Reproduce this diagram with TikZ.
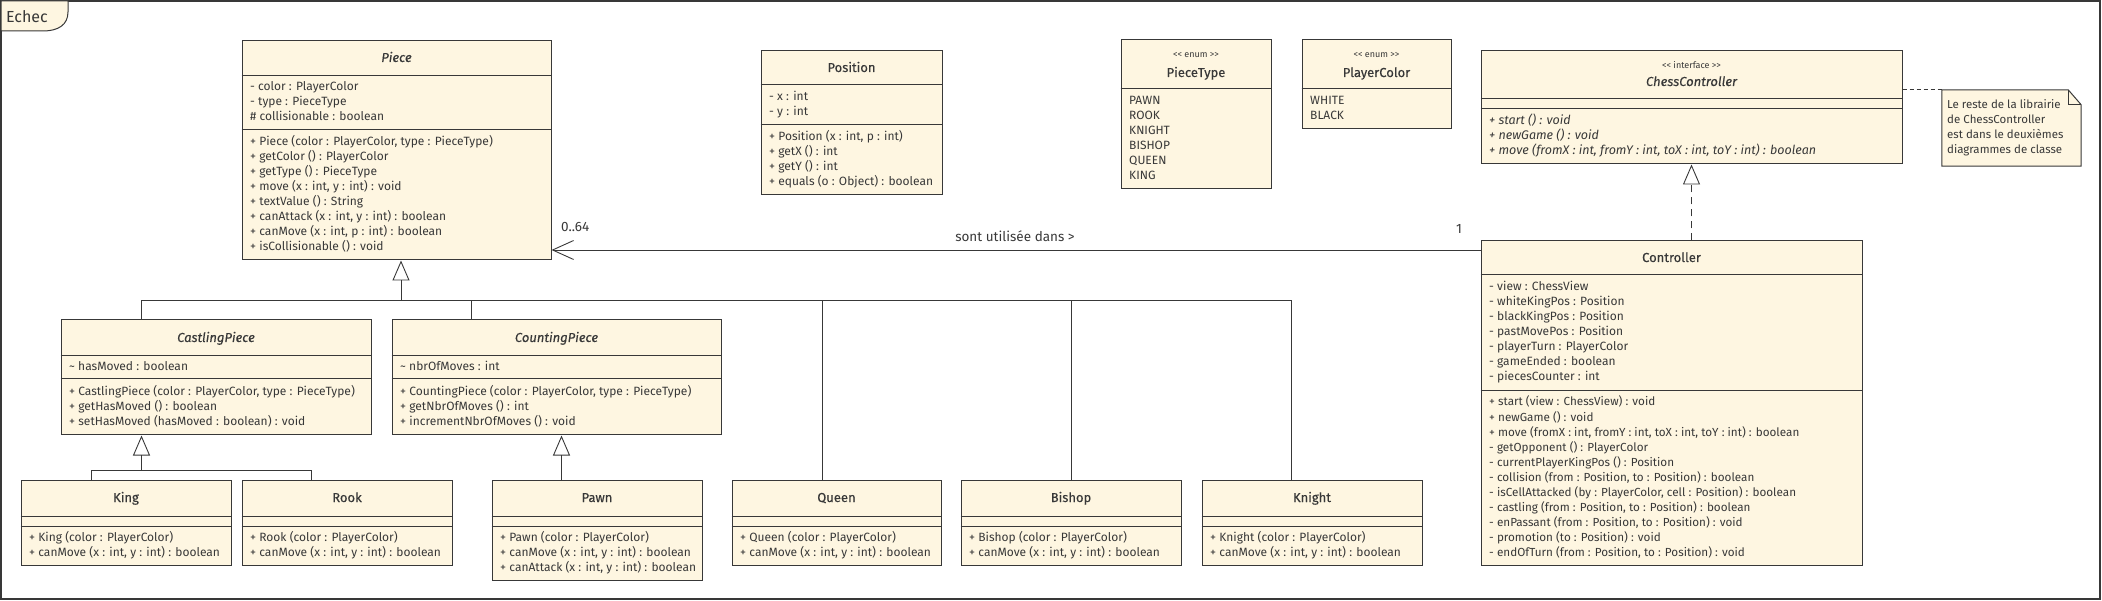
\documentclass[tikz,border=0pt]{standalone}
\usepackage{fontspec}
\setmainfont{Fira Sans}
\newfontfamily\titlefont{Fira Sans}[FakeBold=0.3]
\usetikzlibrary{fit,arrows.meta}
\definecolor{umlfill}{HTML}{FEF6E1}
\definecolor{umlline}{HTML}{383838}
\tikzstyle{classbox}=[draw=umlline,fill=umlfill,inner sep=0pt,line width=1pt]
\tikzstyle{classline}=[draw=umlline,line width=1pt]
\tikzstyle{member}=[anchor=base west,inner sep=0pt,text=umlline,font=\fontsize{12}{15}\selectfont]
\tikzstyle{title}=[anchor=base,inner sep=0pt,text=umlline,font=\titlefont\fontsize{13}{15}\selectfont]
\tikzstyle{stereo}=[anchor=base,inner sep=0pt,text=umlline,font=\fontsize{9}{11}\selectfont]
\tikzstyle{link}=[draw=umlline,line width=0.9pt]
\tikzstyle{generalize}=[link,-{Triangle[open,length=20pt,width=17pt]}]
\tikzstyle{realize}=[generalize,dash pattern=on 7pt off 5pt]
\tikzstyle{navigable}=[link,-{Straight Barb[length=21pt,width=19pt]}]

% box with header and two compartments: name, x1, x2, top, header, divider, bottom
\newcommand{\umlclass}[7]{%
  \node[classbox,fit={(#2,#4) (#3,#7)}] (#1) {};
  \draw[classline] (#1.west |- 0,#5) -- (#1.east |- 0,#5);
  \draw[classline] (#1.west |- 0,#6) -- (#1.east |- 0,#6);
}
% one text line per entry, 15px apart
\newcommand{\umllines}[5][]{%
  \foreach \txt [count=\i from 0] in {#5}
    \node[member,#1] (#2-\i) at (#3,#4+15*\i) {\txt};
}

\begin{document}
\begin{tikzpicture}[x=1pt,y=-1pt]
\useasboundingbox (0,0) rectangle (2102,601);

% package frame
\draw[link,line width=1.6pt] (1,1) rectangle (2100,599);
\draw[classbox] (1,1) -- (68,1) -- (68,12) .. controls (68,25) and (58,31) .. (43,31) -- (1,31) -- cycle;
\node[anchor=base west,inner sep=0pt,text=umlline,font=\fontsize{16}{18}\selectfont] (echec) at (6,23) {Echec};

% Piece
\umlclass{piece}{242}{551}{41}{76}{130}{260}
\node[title,font=\titlefont\fontsize{13}{15}\itshape] (piece-name) at (396.5,62) {Piece};
\umllines{piece-attr}{250}{91}{{- color : PlayerColor},{- type : PieceType},{\# collisionable : boolean}}
\umllines{piece-op}{250}{146}{{+ Piece (color : PlayerColor, type : PieceType)},{+ getColor () : PlayerColor},
  {+ getType () : PieceType},{+ move (x : int, y : int) : void},{+ textValue () : String},
  {+ canAttack (x : int, y : int) : boolean},{+ canMove (x : int, p : int) : boolean},{+ isCollisionable () : void}}

% Position
\umlclass{position}{761}{942}{51}{85}{125}{195}
\node[title] (position-name) at (851.5,72) {Position};
\umllines{position-attr}{769}{101}{{- x : int},{- y : int}}
\umllines{position-op}{769}{141}{{+ Position (x : int, p : int)},{+ getX () : int},{+ getY () : int},
  {+ equals (o : Object) : boolean}}

% enums
\umlclass{piecetype}{1121}{1271}{40}{89}{89}{189}
\node[stereo] (piecetype-st) at (1196,58) {<{}< enum >{}>};
\node[title] (piecetype-name) at (1196,77) {PieceType};
\umllines{piecetype-lit}{1129}{105}{PAWN,ROOK,KNIGHT,BISHOP,QUEEN,KING}

\umlclass{playercolor}{1302}{1451}{40}{89}{89}{129}
\node[stereo] (playercolor-st) at (1376.5,58) {<{}< enum >{}>};
\node[title] (playercolor-name) at (1376.5,77) {PlayerColor};
\umllines{playercolor-lit}{1310}{105}{WHITE,BLACK}

% ChessController
\umlclass{chesscontroller}{1481}{1902}{51}{99}{109}{164}
\node[stereo] (chesscontroller-st) at (1691.5,69) {<{}< interface >{}>};
\node[title,font=\titlefont\fontsize{13}{15}\itshape] (chesscontroller-name) at (1691.5,86) {ChessController};
\umllines[font=\fontsize{12.5}{15}\itshape]{chesscontroller-op}{1489}{125}{{+ start () : void},{+ newGame () : void},
  {+ move (fromX : int, fromY : int, toX : int, toY : int) : boolean}}

% note
\node[inner sep=0pt,fit={(1942,90) (2081,166)}] (note) {};
\draw[classbox] (note.north west) -- ([xshift=-13pt]note.north east) -- ([yshift=-15pt]note.north east)
  -- (note.south east) -- (note.south west) -- cycle;
\draw[classline] ([xshift=-13pt]note.north east) -- ([xshift=-13pt,yshift=-15pt]note.north east)
  -- ([yshift=-15pt]note.north east);
\umllines[font=\fontsize{11.5}{15}\selectfont]{note-txt}{1947}{109}{{Le reste de la librairie},{de ChessController},
  {est dans le deuxièmes},{diagrammes de classe}}
\draw[link,dash pattern=on 4pt off 3pt] (chesscontroller.east |- note.north west) -- (note.north west);

% Controller
\umlclass{controller}{1481}{1862}{241}{275}{391}{565}
\node[title] (controller-name) at (1671.5,262) {Controller};
\umllines{controller-attr}{1489}{291}{{- view : ChessView},{- whiteKingPos : Position},{- blackKingPos : Position},
  {- pastMovePos : Position},{- playerTurn : PlayerColor},{- gameEnded : boolean},{- piecesCounter : int}}
\umllines[font=\fontsize{11.7}{15}\selectfont]{controller-op}{1489}{406}{{+ start (view : ChessView) : void},{+ newGame () : void},
  {+ move (fromX : int, fromY : int, toX : int, toY : int) : boolean},{- getOpponent () : PlayerColor},
  {- currentPlayerKingPos () : Position},{- collision (from : Position, to : Position) : boolean},
  {- isCellAttacked (by : PlayerColor, cell : Position) : boolean},{- castling (from : Position, to : Position) : boolean},
  {- enPassant (from : Position, to : Position) : void},{- promotion (to : Position) : void},
  {- endOfTurn (from : Position, to : Position) : void}}

% CastlingPiece, CountingPiece
\umlclass{castlingpiece}{61}{371}{320}{356}{379}{435}
\node[title,font=\titlefont\fontsize{13}{15}\itshape] (castlingpiece-name) at (216,342) {CastlingPiece};
\umllines{castlingpiece-attr}{69}{371}{{\textasciitilde{} hasMoved : boolean}}
\umllines{castlingpiece-op}{69}{396}{{+ CastlingPiece (color : PlayerColor, type : PieceType)},
  {+ getHasMoved () : boolean},{+ setHasMoved (hasMoved : boolean) : void}}

\umlclass{countingpiece}{392}{721}{320}{356}{379}{435}
\node[title,font=\titlefont\fontsize{13}{15}\itshape] (countingpiece-name) at (556.5,342) {CountingPiece};
\umllines{countingpiece-attr}{400}{371}{{\textasciitilde{} nbrOfMoves : int}}
\umllines{countingpiece-op}{400}{396}{{+ CountingPiece (color : PlayerColor, type : PieceType)},
  {+ getNbrOfMoves () : int},{+ incrementNbrOfMoves () : void}}

% concrete pieces
\umlclass{king}{21}{231}{480}{516}{526}{565}
\node[title] (king-name) at (126,502) {King};
\umllines{king-op}{29}{541}{{+ King (color : PlayerColor)},{+ canMove (x : int, y : int) : boolean}}

\umlclass{rook}{242}{452}{480}{516}{526}{565}
\node[title] (rook-name) at (347,502) {Rook};
\umllines{rook-op}{250}{541}{{+ Rook (color : PlayerColor)},{+ canMove (x : int, y : int) : boolean}}

\umlclass{pawn}{492}{702}{480}{516}{526}{580}
\node[title] (pawn-name) at (597,502) {Pawn};
\umllines{pawn-op}{500}{541}{{+ Pawn (color : PlayerColor)},{+ canMove (x : int, y : int) : boolean},
  {+ canAttack (x : int, y : int) : boolean}}

\umlclass{queen}{732}{941}{480}{516}{526}{565}
\node[title] (queen-name) at (836.5,502) {Queen};
\umllines{queen-op}{740}{541}{{+ Queen (color : PlayerColor)},{+ canMove (x : int, y : int) : boolean}}

\umlclass{bishop}{961}{1181}{480}{516}{526}{565}
\node[title] (bishop-name) at (1071,502) {Bishop};
\umllines{bishop-op}{969}{541}{{+ Bishop (color : PlayerColor)},{+ canMove (x : int, y : int) : boolean}}

\umlclass{knight}{1202}{1422}{480}{516}{526}{565}
\node[title] (knight-name) at (1312,502) {Knight};
\umllines{knight-op}{1210}{541}{{+ Knight (color : PlayerColor)},{+ canMove (x : int, y : int) : boolean}}

% inheritance from Piece
\coordinate (bus) at (0,300);
\draw[link] (castlingpiece.north -| 141.5,0) -- (141.5,0 |- bus) -- (1291.5,0 |- bus) -- (knight.north -| 1291.5,0);
\foreach \n/\x in {countingpiece/471.5,queen/822,bishop/1071}
  \draw[link] (\n.north -| \x,0) -- (\x,0 |- bus);
\draw[generalize] (401,0 |- bus) -- (piece.south -| 401,0);

% King, Rook -> CastlingPiece
\coordinate (kingbus) at (0,470);
\draw[link] (king.north -| 91.5,0) -- (91.5,0 |- kingbus) -- (311.5,0 |- kingbus) -- (rook.north -| 311.5,0);
\draw[generalize] (141.5,0 |- kingbus) -- (castlingpiece.south -| 141.5,0);

% Pawn -> CountingPiece
\draw[generalize] (pawn.north -| 561.5,0) -- (countingpiece.south -| 561.5,0);

% Controller realizes ChessController
\draw[realize] (controller.north -| chesscontroller.south) -- (chesscontroller.south);

% association
\draw[navigable] (controller.west |- 0,250) -- (piece.east |- 0,250);
\node[member,font=\fontsize{13.5}{15}\selectfont] (mult-piece) at (561,232) {0..64};
\node[member,anchor=base,font=\fontsize{13.5}{15}\selectfont] (mult-ctrl) at (1459,234) {1};
\node[member,anchor=base,font=\fontsize{13.5}{15}\selectfont] (assoc-label) at (1015,242) {sont utilisée dans >};
\end{tikzpicture}
\end{document}
